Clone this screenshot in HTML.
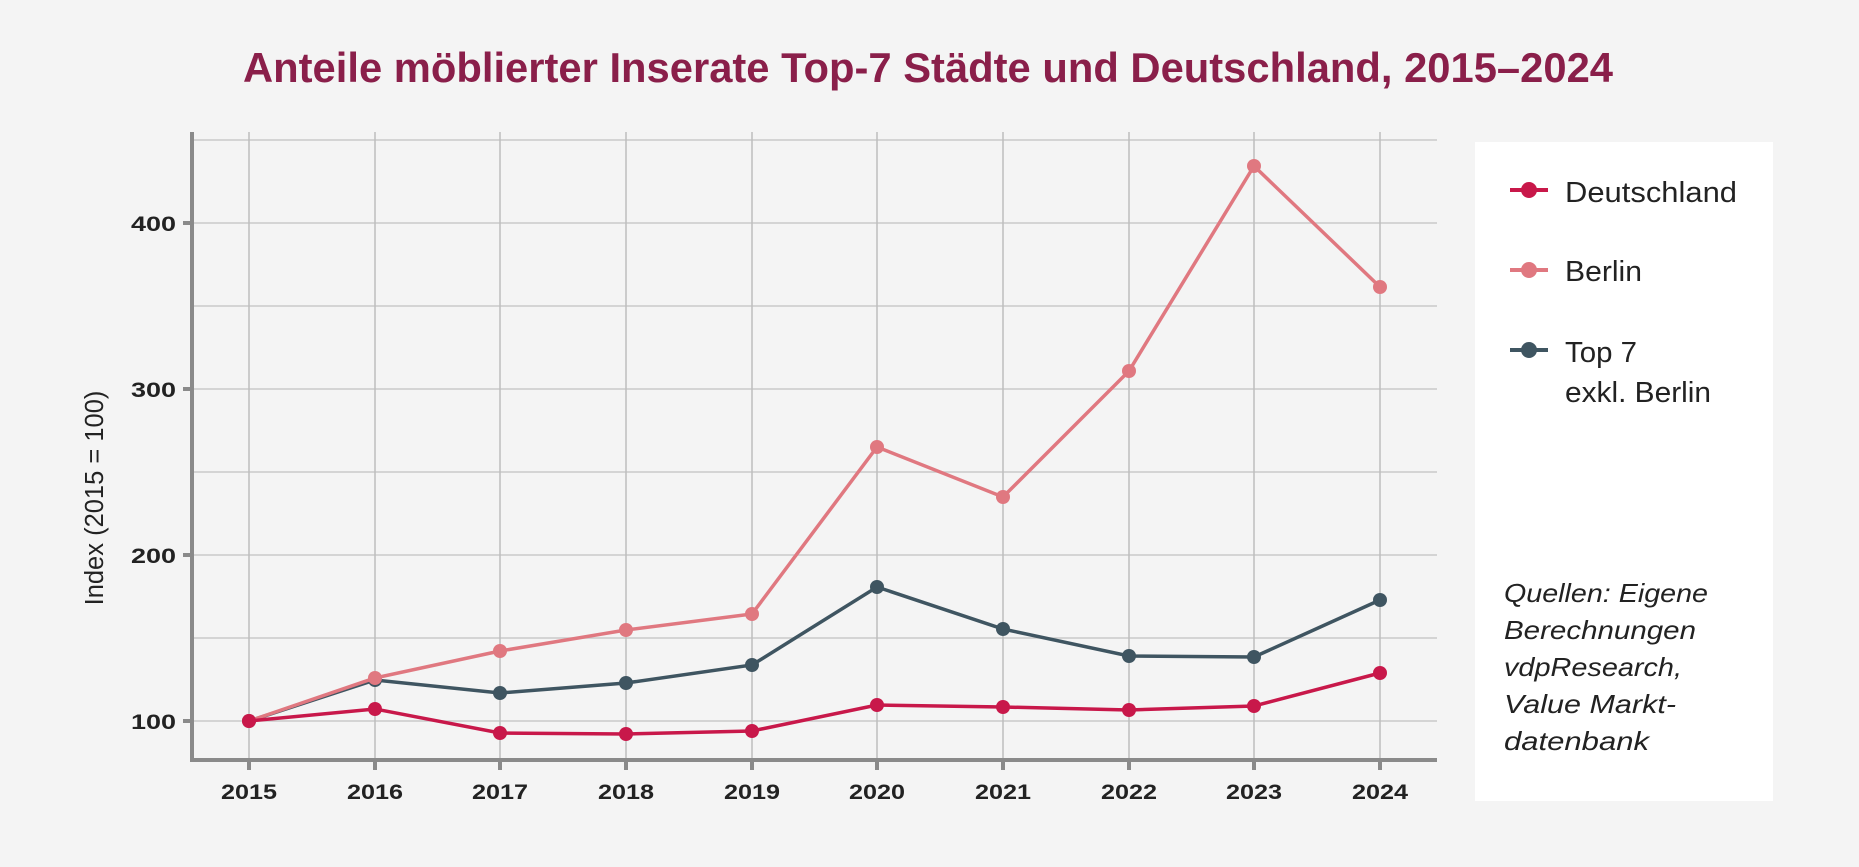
<!DOCTYPE html>
<html><head><meta charset="utf-8"><style>
html,body{margin:0;padding:0;background:#f4f4f4;}
svg{display:block;}
</style></head><body>
<svg width="1859" height="867" viewBox="0 0 1859 867" xmlns="http://www.w3.org/2000/svg" font-family="'Liberation Sans', sans-serif">
<rect width="1859" height="867" fill="#f4f4f4"/>
<text x="243" y="82" font-size="42" font-weight="bold" fill="#8a1f4a" textLength="1370" lengthAdjust="spacingAndGlyphs">Anteile möblierter Inserate Top-7 Städte und Deutschland, 2015–2024</text>
<g stroke="#c9c9c9" stroke-width="1.5">
<line x1="192" y1="140" x2="1437" y2="140"/>
<line x1="192" y1="223" x2="1437" y2="223"/>
<line x1="192" y1="306" x2="1437" y2="306"/>
<line x1="192" y1="389" x2="1437" y2="389"/>
<line x1="192" y1="472" x2="1437" y2="472"/>
<line x1="192" y1="555" x2="1437" y2="555"/>
<line x1="192" y1="638" x2="1437" y2="638"/>
<line x1="192" y1="721" x2="1437" y2="721"/>
</g>
<g stroke="#bdbdbd" stroke-width="1.5">
<line x1="249" y1="132" x2="249" y2="760"/><line x1="375" y1="132" x2="375" y2="760"/><line x1="500" y1="132" x2="500" y2="760"/><line x1="626" y1="132" x2="626" y2="760"/><line x1="752" y1="132" x2="752" y2="760"/><line x1="877" y1="132" x2="877" y2="760"/><line x1="1003" y1="132" x2="1003" y2="760"/><line x1="1129" y1="132" x2="1129" y2="760"/><line x1="1254" y1="132" x2="1254" y2="760"/><line x1="1380" y1="132" x2="1380" y2="760"/>
</g>
<g stroke="#8a8a8a" stroke-width="4">
<line x1="192" y1="132" x2="192" y2="762"/>
<line x1="190" y1="760" x2="1437" y2="760"/>
</g>
<g stroke="#8a8a8a" stroke-width="4">
<line x1="249" y1="760" x2="249" y2="770"/><line x1="375" y1="760" x2="375" y2="770"/><line x1="500" y1="760" x2="500" y2="770"/><line x1="626" y1="760" x2="626" y2="770"/><line x1="752" y1="760" x2="752" y2="770"/><line x1="877" y1="760" x2="877" y2="770"/><line x1="1003" y1="760" x2="1003" y2="770"/><line x1="1129" y1="760" x2="1129" y2="770"/><line x1="1254" y1="760" x2="1254" y2="770"/><line x1="1380" y1="760" x2="1380" y2="770"/>
<line x1="183" y1="223" x2="192" y2="223"/><line x1="183" y1="389" x2="192" y2="389"/><line x1="183" y1="555" x2="192" y2="555"/><line x1="183" y1="721" x2="192" y2="721"/>
</g>
<g font-size="21" font-weight="bold" fill="#222">
<text x="131" y="231" textLength="45" lengthAdjust="spacingAndGlyphs">400</text><text x="131" y="397" textLength="45" lengthAdjust="spacingAndGlyphs">300</text><text x="131" y="563" textLength="45" lengthAdjust="spacingAndGlyphs">200</text><text x="131" y="729" textLength="45" lengthAdjust="spacingAndGlyphs">100</text>
</g>
<g font-size="21" font-weight="bold" fill="#222">
<text x="221" y="799" textLength="56" lengthAdjust="spacingAndGlyphs">2015</text><text x="347" y="799" textLength="56" lengthAdjust="spacingAndGlyphs">2016</text><text x="472" y="799" textLength="56" lengthAdjust="spacingAndGlyphs">2017</text><text x="598" y="799" textLength="56" lengthAdjust="spacingAndGlyphs">2018</text><text x="724" y="799" textLength="56" lengthAdjust="spacingAndGlyphs">2019</text><text x="849" y="799" textLength="56" lengthAdjust="spacingAndGlyphs">2020</text><text x="975" y="799" textLength="56" lengthAdjust="spacingAndGlyphs">2021</text><text x="1101" y="799" textLength="56" lengthAdjust="spacingAndGlyphs">2022</text><text x="1226" y="799" textLength="56" lengthAdjust="spacingAndGlyphs">2023</text><text x="1352" y="799" textLength="56" lengthAdjust="spacingAndGlyphs">2024</text>
</g>
<text transform="translate(103,498) rotate(-90)" font-size="25.5" fill="#222" text-anchor="middle">Index (2015 = 100)</text>
<!-- Top7 -->
<polyline fill="none" stroke="#3f5561" stroke-width="3.5" points="249,721 375,680 500,693 626,683 752,665 877,587 1003,629 1129,656 1254,657 1380,600"/>
<g fill="#3f5561"><circle cx="249" cy="721" r="7"/><circle cx="375" cy="680" r="7"/><circle cx="500" cy="693" r="7"/><circle cx="626" cy="683" r="7"/><circle cx="752" cy="665" r="7"/><circle cx="877" cy="587" r="7"/><circle cx="1003" cy="629" r="7"/><circle cx="1129" cy="656" r="7"/><circle cx="1254" cy="657" r="7"/><circle cx="1380" cy="600" r="7"/></g>
<!-- Berlin -->
<polyline fill="none" stroke="#e07880" stroke-width="3.5" points="249,721 375,678 500,651 626,630 752,614 877,447 1003,497 1129,371 1254,166 1380,287"/>
<g fill="#e07880"><circle cx="249" cy="721" r="7"/><circle cx="375" cy="678" r="7"/><circle cx="500" cy="651" r="7"/><circle cx="626" cy="630" r="7"/><circle cx="752" cy="614" r="7"/><circle cx="877" cy="447" r="7"/><circle cx="1003" cy="497" r="7"/><circle cx="1129" cy="371" r="7"/><circle cx="1254" cy="166" r="7"/><circle cx="1380" cy="287" r="7"/></g>
<!-- Deutschland -->
<polyline fill="none" stroke="#c8184a" stroke-width="3.5" points="249,721 375,709 500,733 626,734 752,731 877,705 1003,707 1129,710 1254,706 1380,673"/>
<g fill="#c8184a"><circle cx="249" cy="721" r="7"/><circle cx="375" cy="709" r="7"/><circle cx="500" cy="733" r="7"/><circle cx="626" cy="734" r="7"/><circle cx="752" cy="731" r="7"/><circle cx="877" cy="705" r="7"/><circle cx="1003" cy="707" r="7"/><circle cx="1129" cy="710" r="7"/><circle cx="1254" cy="706" r="7"/><circle cx="1380" cy="673" r="7"/></g>
<!-- Legend -->
<rect x="1475" y="142" width="298" height="659" fill="#ffffff"/>
<line x1="1510" y1="190" x2="1548" y2="190" stroke="#c8184a" stroke-width="4"/><circle cx="1529" cy="190" r="8" fill="#c8184a"/>
<line x1="1510" y1="270" x2="1548" y2="270" stroke="#e07880" stroke-width="4"/><circle cx="1529" cy="270" r="8" fill="#e07880"/>
<line x1="1510" y1="350" x2="1548" y2="350" stroke="#3f5561" stroke-width="4"/><circle cx="1529" cy="350" r="8" fill="#3f5561"/>
<g font-size="29" fill="#222">
<text x="1565" y="202" textLength="172" lengthAdjust="spacingAndGlyphs">Deutschland</text>
<text x="1565" y="281" textLength="77" lengthAdjust="spacingAndGlyphs">Berlin</text>
<text x="1565" y="362" textLength="72" lengthAdjust="spacingAndGlyphs">Top 7</text>
<text x="1565" y="402" textLength="146" lengthAdjust="spacingAndGlyphs">exkl. Berlin</text>
</g>
<g font-size="26" font-style="italic" fill="#222">
<text x="1504" y="602" textLength="204" lengthAdjust="spacingAndGlyphs">Quellen: Eigene</text>
<text x="1504" y="639" textLength="192" lengthAdjust="spacingAndGlyphs">Berechnungen</text>
<text x="1504" y="676" textLength="178" lengthAdjust="spacingAndGlyphs">vdpResearch,</text>
<text x="1504" y="713" textLength="172" lengthAdjust="spacingAndGlyphs">Value Markt-</text>
<text x="1504" y="750" textLength="145" lengthAdjust="spacingAndGlyphs">datenbank</text>
</g>
</svg>
</body></html>
